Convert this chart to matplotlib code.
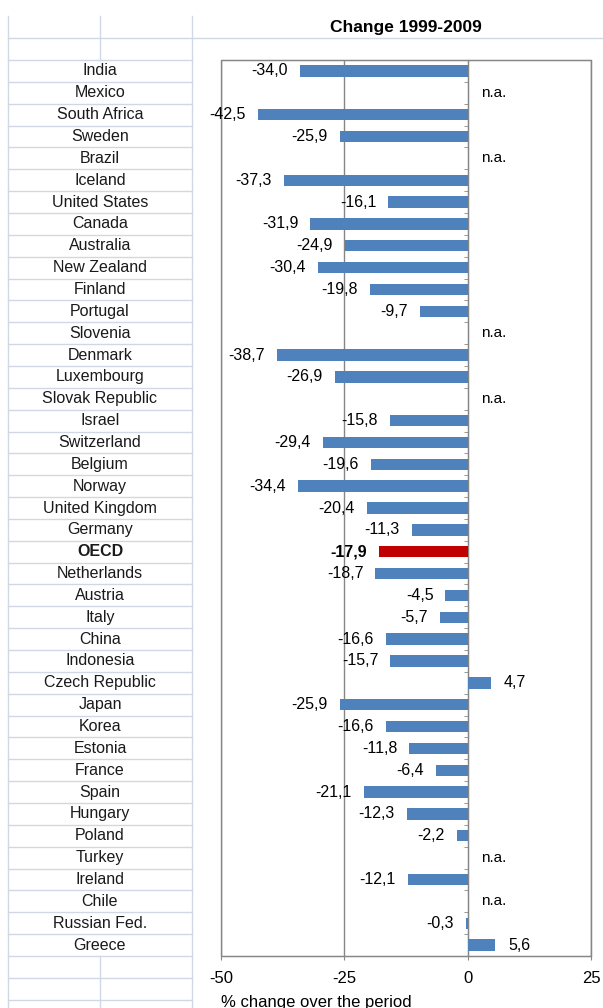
# Horizontal bar chart: change 1999-2009, laid over a spreadsheet grid
import numpy as np
import matplotlib.pyplot as plt
from matplotlib.lines import Line2D
from matplotlib.patches import Rectangle
from matplotlib.transforms import blended_transform_factory
from matplotlib.ticker import FixedLocator

plt.rcParams['font.family'] = ['Liberation Sans', 'DejaVu Sans']

# Data (None = n.a.)
countries = ["India", "Mexico", "South Africa", "Sweden", "Brazil", "Iceland",
             "United States", "Canada", "Australia", "New Zealand", "Finland",
             "Portugal", "Slovenia", "Denmark", "Luxembourg", "Slovak Republic",
             "Israel", "Switzerland", "Belgium", "Norway", "United Kingdom",
             "Germany", "OECD", "Netherlands", "Austria", "Italy", "China",
             "Indonesia", "Czech Republic", "Japan", "Korea", "Estonia", "France",
             "Spain", "Hungary", "Poland", "Turkey", "Ireland", "Chile",
             "Russian Fed.", "Greece"]
values = [-34.0, None, -42.5, -25.9, None, -37.3,
          -16.1, -31.9, -24.9, -30.4, -19.8,
          -9.7, None, -38.7, -26.9, None,
          -15.8, -29.4, -19.6, -34.4, -20.4,
          -11.3, -17.9, -18.7, -4.5, -5.7, -16.6,
          -15.7, 4.7, -25.9, -16.6, -11.8, -6.4,
          -21.1, -12.3, -2.2, None, -12.1, None,
          -0.3, 5.6]
highlight = "OECD"
xticks = [-50, -25, 0, 25]

bar_blue = "#4F81BD"
bar_red = "#C00000"
axis_grey = "#868686"
cell_line = "#D0D7E5"

fig = plt.figure(figsize=(6.03, 10.08), dpi=100)
ax = fig.add_axes([221 / 603, 52 / 1008, 370 / 603, 896 / 1008])

y = np.arange(len(countries))
mask = np.array([v is not None for v in values])
vals = np.array([v for v in values if v is not None])
colors = [bar_red if c == highlight else bar_blue for c, m in zip(countries, mask) if m]
ax.barh(y[mask], vals, height=0.52, color=colors, zorder=3)

# value labels
for yi, v, c in zip(y, values, countries):
    weight = 'bold' if c == highlight else 'normal'
    if v is None:
        ax.annotate("n.a.", (0, yi), xytext=(13, 0), textcoords='offset pixels',
                    ha='left', va='center', fontsize=11)
    elif v < 0:
        ax.annotate(f"{v:.1f}".replace('.', ','), (v, yi), xytext=(-12, 0),
                    textcoords='offset pixels', ha='right', va='center',
                    fontsize=11.5, fontweight=weight)
    else:
        ax.annotate(f"{v:.1f}".replace('.', ','), (v, yi), xytext=(13, 0),
                    textcoords='offset pixels', ha='left', va='center',
                    fontsize=11.5, fontweight=weight)

ax.set_xlim(-50, 25)
ax.set_ylim(len(countries) - 0.5, -0.5)

# axes styling
ax.set_xticks(xticks)
ax.set_xticklabels([str(t) for t in xticks], fontsize=12)
ax.tick_params(axis='x', direction='out', length=3, pad=8, color=axis_grey)
ax.set_yticks([])
ax.yaxis.set_minor_locator(FixedLocator(np.arange(-0.5, len(countries), 1)))
ax.tick_params(axis='y', which='minor', direction='out', length=3, color=axis_grey)
ax.spines['left'].set_position(('data', 0))
for s in ax.spines.values():
    s.set_color(axis_grey)
ax.xaxis.grid(True, color=axis_grey, linewidth=1)
ax.set_axisbelow(True)
ax.add_patch(Rectangle((0, 0), 1, 1, transform=ax.transAxes, fill=False,
                       edgecolor=axis_grey, linewidth=1, clip_on=False, zorder=1))

# spreadsheet cells on the left
trans = blended_transform_factory(fig.transFigure, ax.transData)
x0, xm, x1 = 8 / 603, 100 / 603, 192 / 603
for yb in np.arange(-1.5, len(countries) + 2.6, 1):
    xr = 1.0 if yb == -1.5 else x1
    fig.add_artist(Line2D([x0, xr], [yb, yb], transform=trans, color=cell_line, lw=1))
top, bottom = -2.5, len(countries) + 2.5
for xv in (x0, x1):
    fig.add_artist(Line2D([xv, xv], [top, bottom], transform=trans, color=cell_line, lw=1))
fig.add_artist(Line2D([xm, xm], [top, -0.5], transform=trans, color=cell_line, lw=1))
fig.add_artist(Line2D([xm, xm], [len(countries) - 0.5, bottom], transform=trans,
                      color=cell_line, lw=1))

for yi, c in zip(y, countries):
    weight = 'bold' if c == highlight else 'normal'
    ax.text(xm, yi, c, transform=trans, ha='center', va='center',
            fontsize=11.5, fontweight=weight, color='#1A1A1A')

ax.text(406 / 603, -2, "Change 1999-2009", transform=trans, ha='center', va='center',
        fontsize=12.5, fontweight='bold')
fig.text(221 / 603, 1 - 1002 / 1008, "% change over the period", ha='left',
         va='center', fontsize=12)

fig.savefig("out.png", dpi=100)
